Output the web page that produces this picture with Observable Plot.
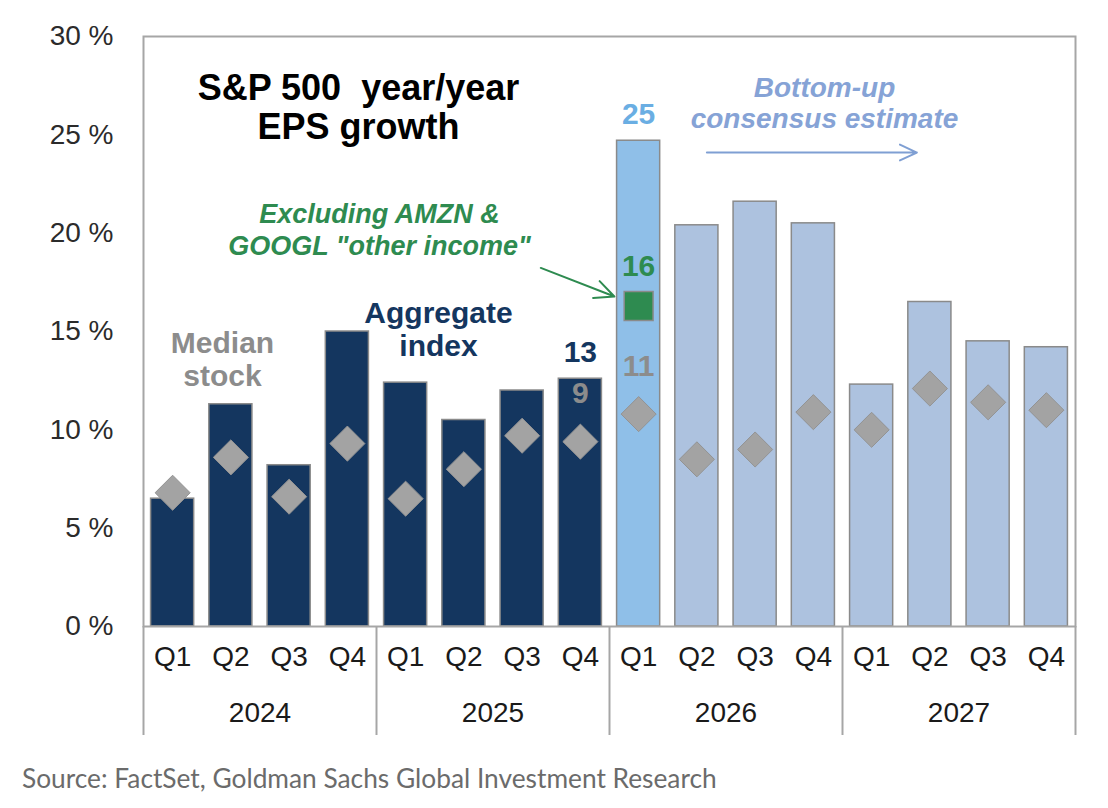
<!DOCTYPE html>
<html>
<head>
<meta charset="utf-8">
<script src="https://cdn.jsdelivr.net/npm/d3@7"></script>
<script src="https://cdn.jsdelivr.net/npm/@observablehq/plot@0.6"></script>
<style>
  html, body { margin: 0; padding: 0; background: #fff; }
  #chart { position: relative; width: 1108px; height: 808px; }
  #caption {
    position: absolute; left: 22px; top: 765px;
    font-family: "Lato", "Open Sans", sans-serif; font-size: 26.3px; color: #6b6b6b;
    line-height: 1; white-space: nowrap;
  }
</style>
</head>
<body>
<div id="chart"><div id="caption">Source: FactSet, Goldman Sachs Global Investment Research</div></div>
<script>
// S&P 500 year/year EPS growth by quarter (%)
const years = ["2024", "2025", "2026", "2027"];
const quarters = ["Q1", "Q2", "Q3", "Q4"];
const periods = years.flatMap(y => quarters.map(q => `${y} ${q}`));

// Aggregate index growth (bars)
const aggregateGrowth = [6.5, 11.3, 8.2, 15.0, 12.4, 10.5, 12.0, 12.6,
                         24.7, 20.4, 21.6, 20.5, 12.3, 16.5, 14.5, 14.2];
// Median stock growth (diamonds)
const medianGrowth = [6.8, 8.6, 6.6, 9.3, 6.5, 8.0, 9.7, 9.4,
                      10.8, 8.5, 9.0, 10.9, 10.0, 12.1, 11.4, 11.0];
// Reported, latest quarter, and bottom-up consensus estimate
const barKind = ["actual", "actual", "actual", "actual", "actual", "actual", "actual", "actual",
                 "latest", "estimate", "estimate", "estimate", "estimate", "estimate", "estimate", "estimate"];
// 2026 Q1 growth excluding AMZN & GOOGL "other income"
const exOtherIncomePeriod = ["2026 Q1"];
const exOtherIncomeGrowth = [16.3];

const yTicks = [0, 5, 10, 15, 20, 25, 30];

const rows = periods.map((period, i) => ({
  period, year: period.slice(0, 4), quarter: period.slice(5),
  aggregate: aggregateGrowth[i], median: medianGrowth[i], kind: barKind[i]
}));
const exRows = exOtherIncomePeriod.map((period, i) => ({period, value: exOtherIncomeGrowth[i]}));
const row = p => rows.filter(d => d.period === p);
const fmt = d3.format(".0f");

const navy = "#14365f", latestBlue = "#8fbfe8", estBlue = "#adc2df";
const green = "#2e8b50", gray = "#a3a3a3", labelGray = "#8c8c8c", arrowBlue = "#7f9fd3";

const width = 1108, marginLeft = 143, marginRight = 33;
const step = (width - marginLeft - marginRight) / periods.length;

// Annotation arrows, anchored to the chart's periods and values
const greenArrow = [{x1: "2025 Q3", y1: 18.6, x2: "2026 Q1", y2: exOtherIncomeGrowth[0]}];
const blueArrow = [{x1: "2026 Q2", y1: 24.1, x2: "2027 Q2", y2: 24.1}];

const chart = Plot.plot({
  width, height: 750,
  marginLeft, marginRight, marginTop: 36, marginBottom: 124,
  style: {fontFamily: "'Liberation Sans', Arial, sans-serif", background: "#fff", overflow: "visible"},
  x: {domain: periods, paddingInner: 0.26, paddingOuter: 0.13, round: false, axis: null},
  y: {domain: [0, 30], axis: null},
  color: {domain: ["actual", "latest", "estimate"], range: [navy, latestBlue, estBlue]},
  marks: [
    Plot.axisY({ticks: yTicks, tickFormat: d => `${d} %`, tickSize: 0, tickPadding: 30,
                fontSize: 28, color: "#2b2b2b"}),
    // quarter labels
    Plot.axisX({tickSize: 0, tickPadding: 20, tickFormat: d => d.slice(5), fontSize: 28, color: "#1a1a1a"}),
    // year labels, centred between Q2 and Q3
    Plot.axisX({ticks: periods.filter(p => p.endsWith("Q2")), tickSize: 0, tickPadding: 76,
                tickFormat: d => d.slice(0, 4), dx: step / 2, fontSize: 28, color: "#1a1a1a"}),
    // year separators below the axis
    Plot.axisX({ticks: periods.filter(p => p.endsWith("Q1")), tickSize: 109, tickFormat: () => "",
                dx: -step / 2, stroke: "#a6a6a6", strokeWidth: 2}),
    Plot.axisX({ticks: [periods[periods.length - 1]], tickSize: 109, tickFormat: () => "",
                dx: step / 2, stroke: "#a6a6a6", strokeWidth: 2}),
    Plot.barY(rows, {x: "period", y: "aggregate", fill: "kind", stroke: "#8a8a8a", strokeWidth: 1.5}),
    Plot.dot(rows, {x: "period", y: "median", symbol: "diamond2", r: 15.8,
                    fill: gray, stroke: "#939393", strokeWidth: 1}),
    Plot.dot(exRows, {x: "period", y: "value", symbol: "square", r: 16.3,
                      fill: green, stroke: "#8a8a8a", strokeWidth: 1.5}),
    Plot.frame({stroke: "#a6a6a6", strokeWidth: 2}),
    // value labels
    Plot.text(row("2026 Q1"), {x: "period", y: "aggregate", text: d => fmt(d.aggregate), dy: -26,
                               fill: "#6aaee3", fontSize: 30, fontWeight: "bold"}),
    Plot.text(row("2025 Q4"), {x: "period", y: "aggregate", text: d => fmt(d.aggregate), dy: -26,
                               fill: navy, fontSize: 30, fontWeight: "bold"}),
    Plot.text(rows.filter(d => d.period === "2025 Q4" || d.period === "2026 Q1"),
              {x: "period", y: "median", text: d => fmt(d.median), dy: -48,
               fill: labelGray, fontSize: 30, fontWeight: "bold"}),
    Plot.text(exRows, {x: "period", y: "value", text: d => fmt(d.value), dy: -40,
                       fill: green, fontSize: 30, fontWeight: "bold"}),
    // arrows
    Plot.arrow(greenArrow, {x1: "x1", y1: "y1", x2: "x2", y2: "y2", stroke: green, strokeWidth: 2,
                            insetStart: 20, insetEnd: 26, headLength: 16, headAngle: 50}),
    Plot.arrow(blueArrow, {x1: "x1", y1: "y1", x2: "x2", y2: "y2", stroke: arrowBlue, strokeWidth: 2,
                           insetStart: 10, insetEnd: 13, headLength: 14, headAngle: 50}),
    // annotations
    Plot.text(["S&P 500  year/year\nEPS growth"], {frameAnchor: "top-left", dx: 215, dy: 36,
      lineAnchor: "top", textAnchor: "middle", fontSize: 36, fontWeight: "bold", fill: "#000", lineHeight: 1.08}),
    Plot.text(["Excluding AMZN &\nGOOGL \"other income\""], {frameAnchor: "top-left", dx: 236, dy: 164,
      lineAnchor: "top", textAnchor: "middle", fontSize: 27, fontWeight: "bold", fontStyle: "italic",
      fill: green, lineHeight: 1.18}),
    Plot.text(["Median\nstock"], {frameAnchor: "top-left", dx: 79, dy: 292,
      lineAnchor: "top", textAnchor: "middle", fontSize: 30, fontWeight: "bold", fill: labelGray, lineHeight: 1.13}),
    Plot.text(["Aggregate\nindex"], {frameAnchor: "top-left", dx: 295, dy: 262,
      lineAnchor: "top", textAnchor: "middle", fontSize: 30, fontWeight: "bold", fill: navy, lineHeight: 1.13}),
    Plot.text(["Bottom-up\nconsensus estimate"], {frameAnchor: "top-left", dx: 681, dy: 38,
      lineAnchor: "top", textAnchor: "middle", fontSize: 28, fontWeight: "bold", fontStyle: "italic",
      fill: "#86a3d6", lineHeight: 1.12})
  ]
});

document.getElementById("chart").prepend(chart);
</script>
</body>
</html>
